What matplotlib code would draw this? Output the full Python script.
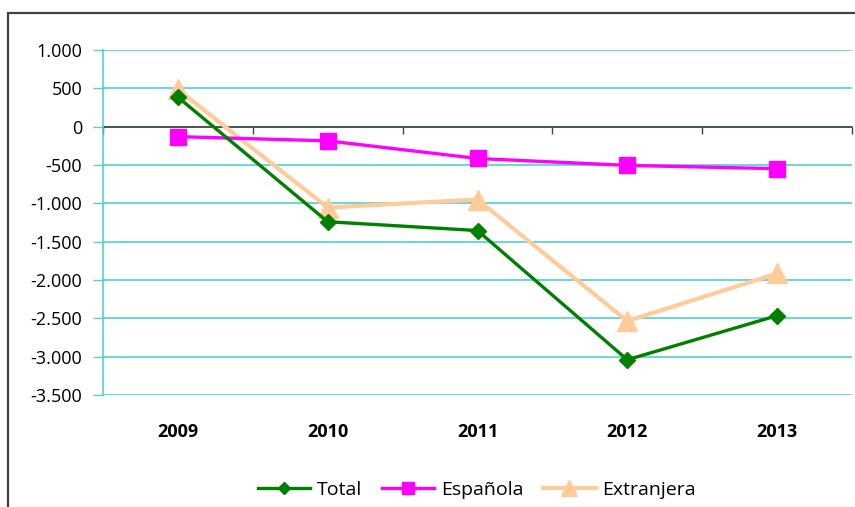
import matplotlib
matplotlib.use("Agg")
import matplotlib.pyplot as plt
from matplotlib.patches import Rectangle
from matplotlib.ticker import FuncFormatter, FixedLocator
import matplotlib.transforms as mtransforms

years = ["2009", "2010", "2011", "2012", "2013"]
total = [385, -1240, -1355, -3040, -2465]
espanola = [-130, -185, -415, -505, -548]
extranjera = [485, -1055, -950, -2535, -1915]

plt.rcParams['font.family'] = ['Open Sans', 'DejaVu Sans']

fig = plt.figure(figsize=(8.55, 5.07), dpi=100)
ax = fig.add_axes([103/855, 1-395/507, (852-103)/855, (395-50)/507])

grid_c = '#4FD1D1'
x = list(range(len(years)))

ax.plot(x, total, color='#008000', lw=2.4, marker='D', ms=8, mec='#008000', label='Total', zorder=5)
ax.plot(x, espanola, color='#FF00FF', lw=2.4, marker='s', ms=12, mec='#FF00FF', label='Española', zorder=4)
ax.plot(x, extranjera, color='#FFCC99', lw=3, marker='^', ms=15, mec='#FFCC99', label='Extranjera', zorder=3)

ax.set_xlim(-0.5, len(years) - 0.5)
ax.set_ylim(-3500, 1000)
ax.set_yticks(range(-3500, 1001, 500))
ax.yaxis.grid(True, color=grid_c, lw=1.2)
ax.set_axisbelow(True)

def fmt(v, pos):
    s = f"{abs(int(v)):,}".replace(",", ".")
    return ("-" if v < 0 else "") + s
ax.yaxis.set_major_formatter(FuncFormatter(fmt))
ax.tick_params(axis='y', length=7, width=1, color=grid_c, pad=8, labelsize=13, colors='black')
ax.tick_params(axis='y', color=grid_c)

for s in ['top', 'right']:
    ax.spines[s].set_visible(False)
ax.spines['left'].set_color(grid_c)
ax.spines['left'].set_linewidth(1.2)
ax.spines['bottom'].set_position(('data', 0))
ax.spines['bottom'].set_color('#404040')
ax.spines['bottom'].set_linewidth(1.2)
ax.spines['bottom'].set_zorder(2)

ax.xaxis.set_major_locator(FixedLocator([i - 0.5 for i in range(len(years) + 1)]))
ax.tick_params(axis='x', length=5, width=1, color='#404040', labelbottom=False, direction='out')

trans = mtransforms.blended_transform_factory(ax.transData, ax.transAxes)
for i, yr in enumerate(years):
    ax.text(i, -0.107, yr, transform=trans, ha='center', va='center',
            fontsize=13, fontweight='bold')

leg = fig.legend(loc='center', bbox_to_anchor=(477/855, 1-490/507), ncol=3, frameon=False,
                 fontsize=14, handlelength=2.7, handletextpad=0.35, columnspacing=1.0,
                 markerscale=0.75)

fig.patches.append(Rectangle((8/855, -0.1), 1.2, 1 - 13/507 + 0.1, transform=fig.transFigure,
                             fill=False, ec='#404040', lw=1.6))

fig.savefig('out.png', dpi=100)
